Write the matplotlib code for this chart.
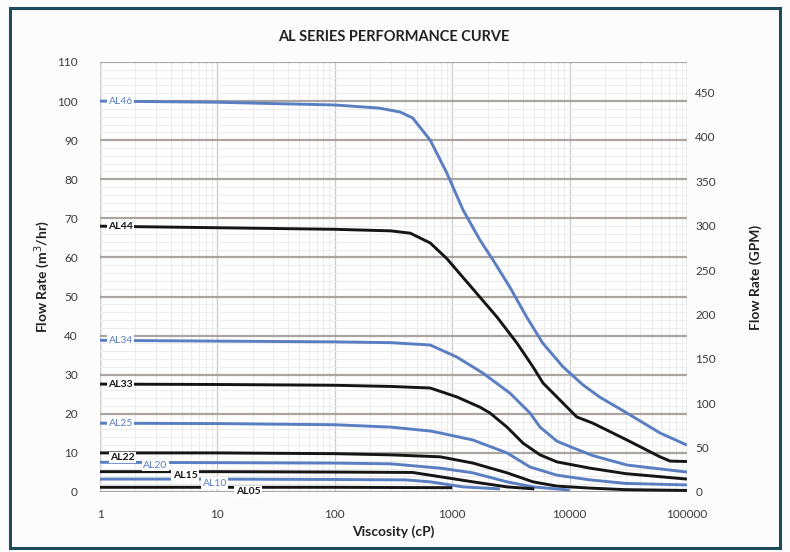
import numpy as np
import matplotlib.pyplot as plt
from matplotlib.patches import Rectangle
from matplotlib.ticker import FixedLocator, NullFormatter

plt.rcParams['font.family'] = ['Lato', 'DejaVu Sans']

# curve data: viscosity (cP) -> flow rate (m3/hr)
al46_x = [1, 10, 100, 240, 360, 460, 650, 900, 1240, 1720, 2230, 3100, 4300, 5900, 8800, 13000, 18000, 30800, 58900, 100000]
al46_y = [100, 99.7, 99, 98.2, 97.2, 95.7, 90, 81.6, 72.1, 64.5, 59.3, 52.4, 44.8, 38.1, 32, 27.4, 24.3, 20.2, 15.1, 12]
al44_x = [1, 10, 100, 300, 440, 650, 900, 1400, 2400, 3560, 4880, 5930, 7800, 11500, 15800, 30800, 58900, 72000, 100000]
al44_y = [68, 67.6, 67.2, 66.8, 66.2, 63.7, 59.7, 53, 44.8, 38.1, 32, 27.9, 24.3, 19.2, 17.6, 13.3, 9, 7.9, 7.8]
al34_x = [1, 10, 100, 300, 650, 1100, 1830, 3100, 4600, 5600, 7800, 10700, 15800, 30800, 100000]
al34_y = [38.8, 38.6, 38.4, 38.2, 37.6, 34.5, 30.4, 25.3, 20.2, 16.6, 13, 11.3, 9.3, 6.9, 5.1]
al33_x = [1, 10, 100, 300, 650, 1100, 1725, 2100, 2930, 4010, 5600, 7800, 14900, 30000, 100000]
al33_y = [27.6, 27.5, 27.3, 27.0, 26.6, 24.3, 21.7, 20.2, 16.6, 12.5, 9.5, 7.7, 6.1, 4.7, 3.3]
al25_x = [1, 10, 100, 300, 650, 790, 1500, 2930, 4600, 7800, 14900, 30000, 100000]
al25_y = [17.6, 17.5, 17.2, 16.6, 15.6, 15.1, 13.3, 10, 6.4, 4.3, 3.1, 2.2, 1.8]
al22_x = [1, 10, 100, 300, 790, 1500, 2930, 4880, 7800, 14900, 30000, 100000]
al22_y = [10, 10, 9.8, 9.5, 9, 7.4, 4.9, 2.6, 1.5, 1.0, 0.6, 0.4]
al20_x = [1, 10, 100, 300, 790, 1500, 2930, 4880, 10000]
al20_y = [7.6, 7.5, 7.4, 7.2, 6.1, 4.9, 2.6, 1.3, 0.5]
al15_x = [1, 10, 100, 460, 790, 1500, 2930, 5000]
al15_y = [5.2, 5.2, 5.1, 5.0, 3.9, 2.6, 1.3, 0.8]
al10_x = [1, 10, 100, 400, 650, 1240, 2550]
al10_y = [3.3, 3.3, 3.2, 3.1, 2.6, 1.3, 0.8]
al05_x = [1, 10, 100, 1000]
al05_y = [1.2, 1.2, 1.2, 1.1]

# name, x, y, colour, label x, label y
blue = '#5a7ec2'
black = '#151515'
series = [
    ('AL46', al46_x, al46_y, blue, 1.5, 100),
    ('AL44', al44_x, al44_y, black, 1.5, 68),
    ('AL34', al34_x, al34_y, blue, 1.5, 38.8),
    ('AL33', al33_x, al33_y, black, 1.5, 27.6),
    ('AL25', al25_x, al25_y, blue, 1.5, 17.6),
    ('AL22', al22_x, al22_y, black, 1.55, 8.8),
    ('AL20', al20_x, al20_y, blue, 2.95, 6.9),
    ('AL15', al15_x, al15_y, black, 5.3, 4.3),
    ('AL10', al10_x, al10_y, blue, 9.5, 2.3),
    ('AL05', al05_x, al05_y, black, 18.2, 0.1),
]

gpm_per_m3h = 4.40287

fig = plt.figure(figsize=(7.9, 5.52), dpi=100, facecolor='#fcfcfc')
fig.patches.append(Rectangle((0.013, 0.007), 0.974, 0.978, transform=fig.transFigure,
                             fill=False, edgecolor='#1e4a5c', linewidth=2.2))
ax = fig.add_axes([0.1266, 0.1087, 0.743, 0.779])
ax.set_facecolor('white')

ax.set_xscale('log')
ax.set_xlim(1, 100000)
ax.set_ylim(0, 110)
ax.set_yticks(np.arange(0, 111, 10))
ax.yaxis.set_minor_locator(FixedLocator(np.arange(0, 111, 2)))
ax.xaxis.set_minor_locator(FixedLocator([m * 10 ** d for d in range(5) for m in range(2, 10)]))
ax.xaxis.set_minor_formatter(NullFormatter())
ax.set_xticks([1, 10, 100, 1000, 10000, 100000])
ax.set_xticklabels(['1', '10', '100', '1000', '10000', '100000'])

ax.grid(True, which='minor', axis='both', color='#ececec', linewidth=0.8)
ax.grid(True, which='major', axis='x', color='#d2cccc', linewidth=1.0)
ax.grid(True, which='major', axis='y', color='#aaa5a3', linewidth=1.6)
ax.set_axisbelow(True)
for s in ax.spines.values():
    s.set_visible(False)
ax.axvline(1, color='#d8d8d8', linewidth=1.0, zorder=0)
ax.axvline(100000, color='#d2cccc', linewidth=1.0, zorder=0)

for name, xs, ys, col, lx, ly in series:
    ax.plot(xs, ys, color=col, linewidth=2.1, solid_capstyle='butt',
            solid_joinstyle='round', zorder=3)
    ax.text(lx, ly, name, color=col, fontsize=7.5, fontweight='bold' if col == black else 'normal',
            ha='center', va='center', zorder=4,
            bbox=dict(facecolor='white', edgecolor='none', pad=1.0))

ax.tick_params(axis='both', which='both', length=0, labelsize=8.5, colors='#3a3a3a')
ax.tick_params(axis='y', pad=16)
ax.tick_params(axis='x', pad=12)
ax.set_xlabel('Viscosity (cP)', fontsize=10, fontweight='bold', color='#222222', labelpad=4)
ax.set_ylabel('Flow Rate (m$^3$/hr)', fontsize=10, fontweight='bold', color='#222222', labelpad=4)
ax.set_title('AL SERIES PERFORMANCE CURVE', fontsize=10.5, fontweight='bold', color='#222222', pad=15)

ax2 = ax.twinx()
ax2.set_ylim(0, 110 * gpm_per_m3h)
ax2.set_yticks(np.arange(0, 451, 50))
for s in ax2.spines.values():
    s.set_visible(False)
ax2.tick_params(axis='y', length=0, labelsize=8.5, colors='#3a3a3a', pad=6)
ax2.set_ylabel('Flow Rate (GPM)', fontsize=10, fontweight='bold', color='#222222', labelpad=24)

fig.savefig('out.png', dpi=100, facecolor=fig.get_facecolor())
